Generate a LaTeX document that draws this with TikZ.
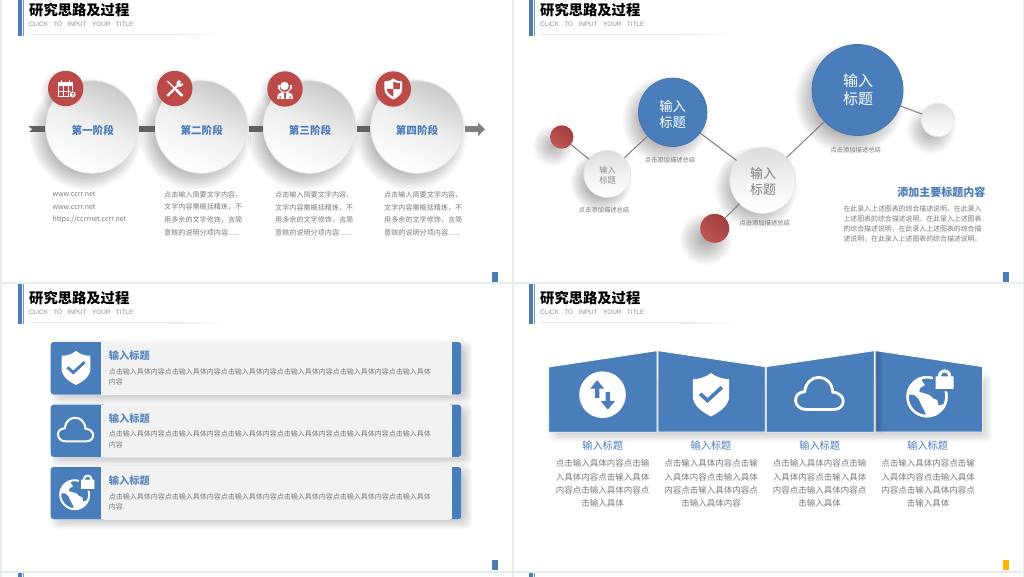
\documentclass[tikz,border=0pt]{standalone}
\usepackage{fontspec}
\setmainfont{Noto Sans CJK SC}
\newfontfamily\latinfont{Liberation Sans}
\usetikzlibrary{arrows.meta,shapes.geometric}
\definecolor{bluec}{HTML}{4A7EBB}
\definecolor{redc}{HTML}{BC4A48}
\definecolor{edgec}{HTML}{E8EDF1}
\definecolor{bodyc}{HTML}{7A7A7A}
\definecolor{linec}{HTML}{7F7F7F}
\newcommand\fsz[2]{\fontsize{#1}{#2}\selectfont}
% soft shadow of a disc: x, y, radius, blur, opacity of one step
\newcommand\softdisc[5]{\foreach \k in {0,1,...,11}{\fill[black,opacity=#5] (#1,#2) circle ({#3+#4*(1-\k/5.5)});}}
% soft shadow of a box: x0,y0,x1,y1,blur,opacity of one step
\newcommand\softbox[6]{\foreach \k in {0,1,...,9}{\fill[black,opacity=#6,rounded corners=#5] ({#1-#5*(1-\k/4.5)},{#2-#5*(1-\k/4.5)}) rectangle ({#3+#5*(1-\k/4.5)},{#4+#5*(1-\k/4.5)});}}
\tikzset{
 x=1pt,y=-1pt,
 dome/.style={circle,inner sep=0pt,outer sep=0pt,minimum size=#1,shade,top color=black!21,bottom color=white,middle color=black!6,shading angle=-25,draw=black!10,line width=0.7pt},
 paledome/.style={dome=#1,top color=black!14,bottom color=white,middle color=black!5},
 bluedisc/.style={circle,inner sep=0pt,outer sep=0pt,minimum size=#1,fill=bluec,draw=bluec!92!black,line width=0.8pt},
 reddisc/.style={circle,inner sep=0pt,outer sep=0pt,minimum size=#1,fill=redc},
 redball/.style={circle,inner sep=0pt,outer sep=0pt,minimum size=#1,shade,top color=redc!85!black,bottom color=redc!94!white,shading angle=-45},
 link/.style={draw=linec,line width=1pt},
 barline/.style={draw=black!62,line width=6pt},
 caption/.style={inner sep=0pt,text=bodyc,font=\fsz{6.3}{8}},
 para/.style={inner sep=0pt,anchor=north west,align=left,text=bodyc},
 headtext/.style={inner sep=0pt,text=bluec,font=\fsz{10.2}{12}\bfseries},
 cardbody/.style={inner sep=0pt,anchor=north west,align=left,text=bodyc,font=\fsz{7}{10.6}},
 panelbody/.style={inner sep=0pt,anchor=north,align=center,text=bodyc,font=\fsz{8.5}{13.2}},
 shieldpic/.pic={
  \fill[white] (0,-1) .. controls (0.3,-0.78) and (0.55,-0.72) .. (0.84,-0.72) -- (0.84,0.05) .. controls (0.84,0.5) and (0.4,0.8) .. (0,1) .. controls (-0.4,0.8) and (-0.84,0.5) .. (-0.84,0.05) -- (-0.84,-0.72) .. controls (-0.55,-0.72) and (-0.3,-0.78) .. cycle;
  \fill[bluec] (-0.56,0.02) -- (-0.44,-0.1) -- (-0.16,0.15) -- (0.44,-0.4) -- (0.56,-0.28) -- (-0.16,0.38) -- cycle;
 },
 cloudpath/.pic={
  \draw[white,line width=\pgfkeysvalueof{/tikz/cloudw}] (-0.55,0.6) .. controls (-1.1,0.6) and (-1.15,-0.1) .. (-0.62,-0.12) .. controls (-0.55,-0.88) and (0.45,-0.92) .. (0.52,-0.1) .. controls (1.1,-0.05) and (1.05,0.6) .. (0.55,0.6) -- cycle;
 },
 cloudw/.initial=2pt,
 globepic/.pic={
  \fill[white] (0,0) circle (1);
  \fill[bluec] (-0.26,-0.8) -- (-0.1,-0.56) -- (-0.34,-0.4) -- (-0.37,-0.24) -- (-0.1,-0.16) -- (0.14,-0.08) -- (0.3,0.08) -- (0.5,0.16) -- (0.56,0.42) -- (0.82,0.36) -- (0.9,0) -- (0.86,-0.6) -- (0.3,-1) -- (-0.1,-0.95) -- cycle;
  \fill[bluec] (-0.95,-0.1) -- (-0.62,-0.08) -- (-0.42,0.1) -- (-0.28,0.4) -- (-0.12,0.7) -- (-0.06,0.9) -- (-0.6,0.8) -- (-0.95,0.3) -- cycle;
  \fill[white,even odd rule] (0,0) circle (1) (0,0) circle (0.88);
  \fill[bluec,rounded corners=0.08] (0.28,-1.55) rectangle (1.42,-0.26);
  \fill[white] (0.85,-1) circle (0.32);
  \fill[bluec] (0.85,-1) circle (0.17);
  \fill[bluec] (0.68,-1) rectangle (1.02,-0.8);
  \fill[white,rounded corners=0.08] (0.42,-0.98) rectangle (1.28,-0.38);
 },
 updownpic/.pic={
  \fill[white] (0,0) circle (1);
  \fill[bluec] (-0.23,-0.62) -- (0.07,-0.26) -- (-0.13,-0.26) -- (-0.13,0.14) -- (-0.33,0.14) -- (-0.33,-0.26) -- (-0.53,-0.26) -- cycle;
  \fill[bluec] (0.23,0.64) -- (-0.07,0.28) -- (0.13,0.28) -- (0.13,-0.12) -- (0.33,-0.12) -- (0.33,0.28) -- (0.53,0.28) -- cycle;
 },
}
\newcommand\slidehead[3]{%
 \begin{scope}[shift={(#2,#3)}]
  \fill[bluec] (18,-4) rectangle (22,36);
  \fill[bluec!80!white] (22.7,-4) rectangle (24,36);
  \node[inner sep=0pt,anchor=west,font=\fsz{14.3}{16}\bfseries,text=black] (#1title) at (29,10) {研究思路及过程};
  \node[inner sep=0pt,anchor=west,font=\latinfont\fsz{6.4}{8},text=black!45] (#1sub) at (29,24.5) {CLICK\ \ \ TO\ \ \ INPUT\ \ \ YOUR\ \ \ TITLE};
  \fill[black!9] (30,34.2) rectangle (170,35);
  \shade[left color=black!9,right color=white] (170,34.2) rectangle (227,35);
 \end{scope}}
\newcommand\slidemark[3]{%
 \fill[#3] (#1,#2) rectangle ++(2.7,10);
 \fill[#3] ({#1+3.4},#2) rectangle ++(2.7,10);}
\begin{document}
\begin{tikzpicture}
\useasboundingbox (0,0) rectangle (1024,577);
\fill[white] (0,0) rectangle (1024,577);
% slide frames
\fill[edgec] (0,0) rectangle (2,577);
\fill[edgec] (512,0) rectangle (514,577);
\fill[edgec] (1022.7,0) rectangle (1024,577);
\fill[edgec] (0,282.3) rectangle (1024,284.3);
\fill[edgec] (0,570.6) rectangle (1024,572.6);
\slidehead{a}{0}{0}
\slidehead{b}{511}{0}
\slidehead{c}{0}{288}
\slidehead{d}{511}{288}
\fill[bluec] (18,572.6) rectangle (22,577);
\fill[bluec!80!white] (22.7,572.6) rectangle (24,577);
\fill[bluec] (529,572.6) rectangle (533,577);
\fill[bluec!80!white] (533.7,572.6) rectangle (535,577);
\slidemark{492}{272}{bluec}
\slidemark{1003}{272}{bluec}
\slidemark{492}{560}{bluec}
\slidemark{1003}{560}{orange!60!yellow}

% ---------- slide 1
\coordinate (b0) at (28.5,129.3);
\coordinate (bend) at (485,129.3);
\foreach \cx in {92,201.3,309.5,417}{\softdisc{\cx-6}{134}{43}{13}{0.036}}
\foreach \cx/\cy in {65.7/88.5,174.8/88.5,285/89,393.3/89}{\softdisc{\cx-3}{\cy+3}{15}{7}{0.02}}
\node[dome=92.6pt] (st1) at (92,127) {};
\node[dome=92.6pt] (st2) at (201.3,127) {};
\node[dome=92.6pt] (st3) at (309.5,127) {};
\node[dome=92.6pt] (st4) at (417,127) {};
\draw[barline] (b0) -- ([xshift=-0.3pt]st1.west |- b0);
\fill[white] (28,126) -- (32,129.3) -- (28,132.6) -- cycle;
\draw[barline] ([xshift=1pt]st1.east |- b0) -- ([xshift=-0.3pt]st2.west |- b0);
\draw[barline] ([xshift=1pt]st2.east |- b0) -- ([xshift=-0.3pt]st3.west |- b0);
\draw[barline] ([xshift=1pt]st3.east |- b0) -- ([xshift=-0.3pt]st4.west |- b0);
\draw[draw=black!50,line width=6pt,-{Triangle[length=7pt,width=13pt]}] ([xshift=1.5pt]st4.east |- b0) -- (bend);
\node[headtext,font=\fsz{10.6}{12}\bfseries] (st1t) at (92.7,130) {第一阶段};
\node[headtext,font=\fsz{10.6}{12}\bfseries] (st2t) at (201.7,130) {第二阶段};
\node[headtext,font=\fsz{10.6}{12}\bfseries] (st3t) at (310,130) {第三阶段};
\node[headtext,font=\fsz{10.6}{12}\bfseries] (st4t) at (417,130) {第四阶段};
\node[reddisc=35.4pt] (ic1) at (65.7,88.5) {};
\node[reddisc=35.4pt] (ic2) at (174.8,88.5) {};
\node[reddisc=35.4pt] (ic3) at (285,89) {};
\node[reddisc=35.4pt] (ic4) at (393.3,89) {};
% calendar icon
\begin{scope}[shift={(65.7,88.5)}]
 \draw[white,line width=1pt] (-7.6,-5.5) rectangle (7,8);
 \fill[white] (-7.6,-5.5) rectangle (7,-2.2);
 \draw[white,line width=1.2pt] (-4,-8) -- (-4,-5) (3.4,-8) -- (3.4,-5);
 \draw[white,line width=0.8pt] (-7.6,2.5) -- (7,2.5) (-2.7,-2) -- (-2.7,8) (2.2,-2) -- (2.2,8);
 \fill[redc] (7,6) circle (4);
 \fill[white] (7,6) circle (3);
 \draw[redc,line width=0.7pt] (6,5) -- (8,5) -- (7,7.6);
\end{scope}
% tools icon
\begin{scope}[shift={(174.8,88.5)}]
 \draw[white,line width=1.3pt] (-7.5,-7.5) -- (1,1);
 \draw[white,line width=2.8pt,line cap=round] (1.5,1.5) -- (7,7);
 \draw[white,line width=2.4pt,line cap=round] (-7,7) -- (3.5,-3.5);
 \fill[white] (5,-5) circle (3.4);
 \fill[redc] (6.5,-6.5) -- (5,-5.6) -- (5.6,-5) -- (7.8,-4.8) -- (8.4,-8) -- (4.8,-8.4) -- cycle;
\end{scope}
% operator icon
\begin{scope}[shift={(285,89)}]
 \draw[white,line width=0.9pt] (-6.2,-2.5) arc[start angle=180,end angle=0,radius=6];
 \fill[white] (-6.6,-3.5) rectangle (-5,0);
 \fill[white] (5,-3.5) rectangle (6.6,0);
 \fill[white] (-0.5,-3) circle (4.3);
 \fill[white] (-8,10) -- (-7,5) -- (-2,3) -- (2,3) -- (7,5) -- (8,10) -- cycle;
 \fill[redc] (-1.3,3.6) -- (1.3,3.6) -- (0.6,10) -- (-0.6,10) -- cycle;
 \fill[redc] (-5.5,7) rectangle (-4.5,10) (4.5,7) rectangle (5.5,10);
\end{scope}
% two tone shield icon
\begin{scope}[shift={(393.3,89)},scale=10.5]
 \fill[white] (0,-1) .. controls (0.3,-0.78) and (0.55,-0.72) .. (0.84,-0.72) -- (0.84,0.05) .. controls (0.84,0.5) and (0.4,0.8) .. (0,1) .. controls (-0.4,0.8) and (-0.84,0.5) .. (-0.84,0.05) -- (-0.84,-0.72) .. controls (-0.55,-0.72) and (-0.3,-0.78) .. cycle;
 \fill[redc] (0,-0.72) .. controls (0.2,-0.6) and (0.4,-0.56) .. (0.62,-0.55) -- (0.62,0) -- (0,0) -- cycle;
 \fill[redc] (-0.62,0) -- (0,0) -- (0,0.72) .. controls (-0.35,0.55) and (-0.6,0.3) .. cycle;
\end{scope}
\node[para,font=\fsz{7}{12.7}] (t1) at (52.3,191.5) {www.ccrr.net\\www.ccrr.net\\https://ccrrnet.ccrr.net};
\node[para,font=\fsz{7.1}{12.7}] (t2) at (164,191) {点击输入简要文字内容，\\文字内容需概括精炼，不\\用多余的文字修饰，言简\\意赅的说明分项内容......};
\node[para,font=\fsz{7.1}{12.7}] (t3) at (275,191.3) {点击输入简要文字内容，\\文字内容需概括精炼，不\\用多余的文字修饰，言简\\意赅的说明分项内容......};
\node[para,font=\fsz{7.1}{12.7}] (t4) at (384,191.3) {点击输入简要文字内容，\\文字内容需概括精炼，不\\用多余的文字修饰，言简\\意赅的说明分项内容......};

% ---------- slide 2
\softdisc{850}{99}{42}{13}{0.034}
\softdisc{666}{120}{31}{12}{0.034}
\softdisc{756}{188}{30}{11}{0.03}
\softdisc{601}{182}{21}{9}{0.03}
\softdisc{931}{130}{14}{10}{0.028}
\softdisc{553}{146}{10}{10}{0.026}
\softdisc{706}{239}{14}{12}{0.03}
\node[bluedisc=91pt] (big) at (857.5,90) {};
\node[bluedisc=68.4pt] (med) at (672.7,112.3) {};
\node[paledome=66pt] (wbig) at (762.8,180.3) {};
\node[paledome=47pt] (wsml) at (607.3,174) {};
\node[paledome=33.4pt] (wend) at (938,120) {};
\node[redball=23.4pt] (ra) at (561.7,137) {};
\node[redball=29pt] (rb) at (714.7,228.3) {};
\draw[link] (ra) -- (wsml);
\draw[link] (wsml) -- (med);
\draw[link] (med) -- (wbig);
\draw[link] (wbig) -- (big);
\draw[link] (big) -- (wend);
\draw[link] (wbig) -- (rb);
\node[inner sep=0pt,align=center,text=white,font=\fsz{15}{18}] (bigt) at (858,90) {输入\\标题};
\node[inner sep=0pt,align=center,text=white,font=\fsz{13.3}{16}] (medt) at (672.7,114) {输入\\标题};
\node[inner sep=0pt,align=center,text=black!50,font=\fsz{13}{16}] (wbigt) at (763,182) {输入\\标题};
\node[inner sep=0pt,align=center,text=black!45,font=\fsz{8.3}{10.3}] (wsmlt) at (607.7,175) {输入\\标题};
\node[caption] (ca) at (604,209.7) {点击添加描述总结};
\node[caption] (cb) at (670,160) {点击添加描述总结};
\node[caption] (cc) at (764.7,223.5) {点击添加描述总结};
\node[caption] (cd) at (855.7,150.3) {点击添加描述总结};
\node[inner sep=0pt,text=bluec,font=\fsz{11}{13}\bfseries] (mt) at (941.3,192.3) {添加主要标题内容};
\node[para,font=\fsz{6.9}{10.3},anchor=north west] (mp) at (843.3,205) {在此录入上述图表的综合描述说明，在此录入\\上述图表的综合描述说明，在此录入上述图表\\的综合描述说明，在此录入上述图表的综合描\\述说明，在此录入上述图表的综合描述说明。};

% ---------- slide 3
\foreach \ya/\yb/\n/\e in {342/394.7/1/内容,404.7/457/2/内容,467/519.3/3/内容.}{
 \softbox{58}{\ya+5}{465}{\yb+2.5}{7}{0.03}
 \fill[black!5,draw=white,line width=0.8pt,rounded corners=3pt] (50.7,\ya) rectangle (461.3,\yb);
 \fill[bluec,rounded corners=3pt] (50.7,\ya) rectangle (106,\yb);
 \fill[black!5] (101,\ya) rectangle (110,\yb);
 \fill[bluec,rounded corners=3pt] (447,\ya) rectangle (461.3,\yb);
 \fill[black!5] (445,\ya) rectangle (452,\yb);
 \node[headtext,anchor=west,text=bluec!92!white] (rowh\n) at (108.7,\ya+13.7) {输入标题};
 \node[cardbody] (rowb\n) at (108.7,\ya+26) {点击输入具体内容点击输入具体内容点击输入具体内容点击输入具体内容点击输入具体内容点击输入具体\\\e};
}
\pic[scale=17] at (76,368) {shieldpic};
\tikzset{cloudw=2pt}
\pic[scale=18.2] at (76,430.5) {cloudpath};
\pic[scale=15.3] at (74.7,494.7) {globepic};

% ---------- slide 4
\softbox{555}{380}{986}{436}{6}{0.024}
\fill[bluec,draw=white,line width=0.8pt] (548.7,367) -- (657,350.7) -- (657,432.3) -- (548.7,432.3) -- cycle;
\fill[bluec,draw=white,line width=0.8pt] (658,350.7) -- (765.3,366.7) -- (765.3,432) -- (658,432) -- cycle;
\fill[bluec,draw=white,line width=0.8pt] (766.3,366.7) -- (874.3,350.7) -- (874.3,432.3) -- (766.3,432.3) -- cycle;
\begin{scope}
 \clip (875.7,350.7) -- (982.7,366.7) -- (982.7,432) -- (875.7,432) -- cycle;
 \fill[bluec] (875.7,350) rectangle (983,433);
 \shade[left color=bluec!78!black,right color=bluec] (875.7,350) rectangle (883,433);
\end{scope}
\draw[white,line width=0.8pt] (875.7,350.7) -- (982.7,366.7) -- (982.7,432) -- (875.7,432) -- cycle;
\pic[scale=23.3] at (602.5,394.7) {updownpic};
\pic[scale=21.7] at (711,394.7) {shieldpic};
\tikzset{cloudw=2.8pt}
\pic[scale=24.7] at (820,394.7) {cloudpath};
\pic[scale=20.7] at (927,396.7) {globepic};
\node[headtext,font=\fsz{10.2}{12}] (pa) at (602.7,445.7) {输入标题};
\node[headtext,font=\fsz{10.2}{12}] (pb) at (711,445.7) {输入标题};
\node[headtext,font=\fsz{10.2}{12}] (pc) at (819.7,445.7) {输入标题};
\node[headtext,font=\fsz{10.2}{12}] (pd) at (927.7,445.7) {输入标题};
\node[panelbody] (qa) at (602.7,459.5) {点击输入具体内容点击输\\入具体内容点击输入具体\\内容点击输入具体内容点\\击输入具体};
\node[panelbody] (qb) at (711,459.5) {点击输入具体内容点击输\\入具体内容点击输入具体\\内容点击输入具体内容点\\击输入具体内容};
\node[panelbody] (qc) at (819.7,459.5) {点击输入具体内容点击输\\入具体内容点击输入具体\\内容点击输入具体内容点\\击输入具体};
\node[panelbody] (qd) at (928,459.5) {点击输入具体内容点击输\\入具体内容点击输入具体\\内容点击输入具体内容点\\击输入具体};
\end{tikzpicture}
\end{document}
